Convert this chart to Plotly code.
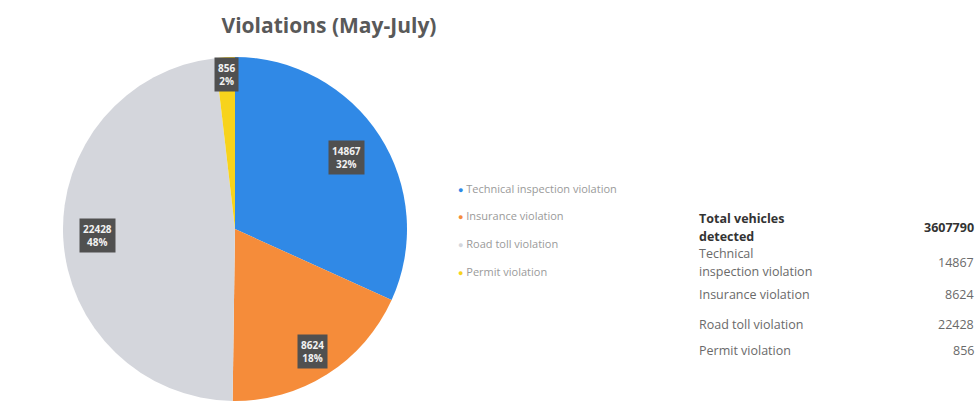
import math
import plotly.graph_objects as go

categories = ["Technical inspection violation", "Insurance violation", "Road toll violation", "Permit violation"]
values = [14867, 8624, 22428, 856]
colors = ["#3089E6", "#F58C3A", "#D4D6DC", "#F7D31C"]
label_radius = [0.77, 0.84, 0.80, 0.90]

table_labels = ["Total vehicles<br>detected", "Technical<br>inspection violation", "Insurance violation",
                "Road toll violation", "Permit violation"]
table_values = ["3607790", "14867", "8624", "22428", "856"]

W, H = 978, 414
pie_left, pie_right, pie_top, pie_bottom = 63, 407, 57, 401

fig = go.Figure()
fig.add_trace(go.Pie(
    labels=categories, values=values, sort=False, direction="clockwise", rotation=0,
    marker=dict(colors=colors, line=dict(width=0)), textinfo="none", showlegend=False,
    domain=dict(x=[pie_left / W, pie_right / W], y=[1 - pie_bottom / H, 1 - pie_top / H]),
    hoverinfo="label+value+percent",
))

total = sum(values)
cx = (pie_left + pie_right) / 2
cy = (pie_top + pie_bottom) / 2
R = (pie_bottom - pie_top) / 2
cum = 0
annotations = []
for v, lr in zip(values, label_radius):
    mid = (cum + v / 2) / total * 2 * math.pi
    cum += v
    px = cx + lr * R * math.sin(mid)
    py = cy - lr * R * math.cos(mid)
    annotations.append(dict(
        x=px / W, y=1 - py / H, xref="paper", yref="paper", xanchor="center", yanchor="middle",
        text=f"<b>{v}<br>{round(v / total * 100)}%</b>", showarrow=False,
        font=dict(family="Open Sans", size=10, color="#F2F2F2"),
        bgcolor="#505050", borderpad=3, align="center",
    ))

# Legend (annotations)
leg_y = [188, 215, 243, 271]
for name, c, y in zip(categories, colors, leg_y):
    annotations.append(dict(x=456 / W, y=1 - y / H, xref="paper", yref="paper", xanchor="left",
                            yanchor="middle",
                            text=f"<span style='color:{c};font-size:9px'>●</span> {name}", showarrow=False,
                            font=dict(family="Open Sans", size=11, color="#9A9A9A")))

# Table
row_y = [227, 262, 294, 324, 350]
line_gap = 18
for i, (lab, val, y) in enumerate(zip(table_labels, table_values, row_y)):
    bold = i == 0
    col = "#333333" if bold else "#6A6A6A"
    lines = lab.split("<br>")
    n = len(lines)
    for j, ln in enumerate(lines):
        ly = y + (j - (n - 1) / 2) * line_gap
        annotations.append(dict(x=697 / W, y=1 - ly / H, xref="paper", yref="paper", xanchor="left",
                                yanchor="middle",
                                text=f"<b>{ln}</b>" if bold else ln, showarrow=False, align="left",
                                font=dict(family="Open Sans", size=12.5, color=col)))
    annotations.append(dict(x=976 / W, y=1 - y / H, xref="paper", yref="paper", xanchor="right",
                            yanchor="middle",
                            text=f"<b>{val}</b>" if bold else val, showarrow=False, align="right",
                            font=dict(family="Open Sans", size=12.5, color=col)))

fig.update_layout(
    width=W, height=H, margin=dict(l=0, r=0, t=0, b=0),
    paper_bgcolor="white", plot_bgcolor="white",
    title=dict(text="<b>Violations (May-July)</b>", x=329 / W, xanchor="center", y=1 - 26 / H, yanchor="middle",
               font=dict(family="Open Sans", size=21, color="#595959")),
    annotations=annotations,
)
fig.write_html("out.html")
